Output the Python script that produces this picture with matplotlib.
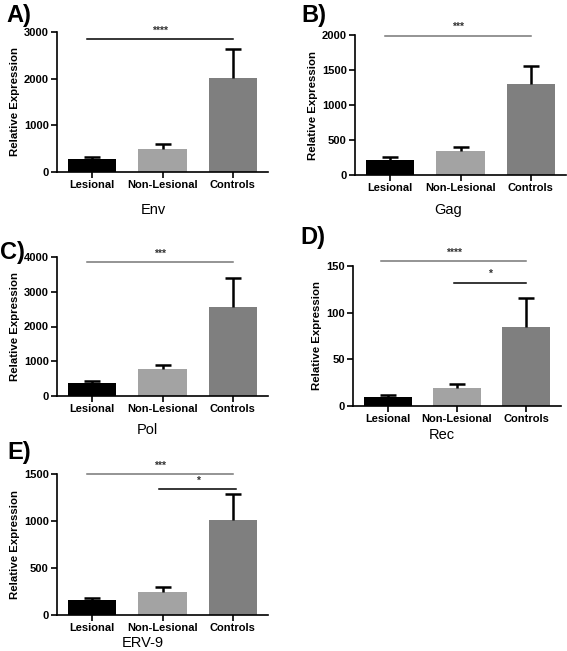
import matplotlib
matplotlib.use("Agg")
import matplotlib.pyplot as plt

plt.rcParams['font.family'] = ['Liberation Sans', 'DejaVu Sans']

groups = ["Lesional", "Non-Lesional", "Controls"]
colors = ["#000000", "#a3a3a3", "#7f7f7f"]

genes = ["Env", "Gag", "Pol", "Rec", "ERV-9"]
panel_tags = ["A)", "B)", "C)", "D)", "E)"]

means = {
    "Env":   [270, 500, 2020],
    "Gag":   [220, 350, 1300],
    "Pol":   [380, 775, 2550],
    "Rec":   [9.5, 19, 85],
    "ERV-9": [160, 242, 1010],
}
sems = {
    "Env":   [45, 110, 620],
    "Gag":   [40, 55, 260],
    "Pol":   [50, 125, 860],
    "Rec":   [2, 5, 31],
    "ERV-9": [25, 60, 275],
}
ymax = {"Env": 3000, "Gag": 2000, "Pol": 4000, "Rec": 150, "ERV-9": 1500}
ystep = {"Env": 1000, "Gag": 500, "Pol": 1000, "Rec": 50, "ERV-9": 500}

# significance brackets: (from, to, y, stars, colour)
sig = {
    "Env":   [(-0.08, 2.0, 2850, "****", "black")],
    "Gag":   [(-0.08, 2.0, 1990, "***", "#777777")],
    "Pol":   [(-0.08, 2.0, 3850, "***", "#777777")],
    "Rec":   [(-0.1, 2.0, 155, "****", "#777777"), (0.95, 2.0, 132, "*", "black")],
    "ERV-9": [(-0.08, 2.0, 1500, "***", "#777777"), (0.95, 2.05, 1340, "*", "black")],
}

W, H = 567, 651
fig = plt.figure(figsize=(W / 100, H / 100), dpi=100)

# pixel boxes: left, top, right, bottom
boxes = {
    "Env":   (57, 32, 268, 172),
    "Gag":   (355, 35, 566, 175),
    "Pol":   (57, 257, 268, 396),
    "Rec":   (353, 266, 561, 406),
    "ERV-9": (57, 474, 268, 615),
}
title_pos = {"Env": (153, 210), "Gag": (448, 210), "Pol": (147, 430), "Rec": (442, 435), "ERV-9": (143, 643)}
tag_pos = {"Env": (6, 4), "Gag": (301, 4), "Pol": (0, 241), "Rec": (300, 226), "ERV-9": (7, 441)}

for gene, tag in zip(genes, panel_tags):
    l, t, r, b = boxes[gene]
    ax = fig.add_axes([l / W, 1 - b / H, (r - l) / W, (b - t) / H])
    x = range(len(groups))
    ax.bar(x, means[gene], width=0.69, color=colors, edgecolor="none", zorder=2)
    _, caps, _ = ax.errorbar(x, means[gene], yerr=[[0, 0, 0], sems[gene]], fmt="none",
                             ecolor="black", elinewidth=1.8, capsize=5.5, capthick=1.8, zorder=3)
    caps[0].remove()  # only the upper cap, as in the original
    ax.set_xlim(-0.5, 2.5)
    ax.set_ylim(0, ymax[gene])
    ax.set_yticks([v * ystep[gene] for v in range(int(ymax[gene] / ystep[gene]) + 1)])
    ax.set_xticks(list(x))
    ax.set_xticklabels(groups, fontsize=8, fontweight="bold")
    for lab in ax.get_yticklabels():
        lab.set_fontsize(8)
        lab.set_fontweight("bold")
    ax.set_ylabel("Relative Expression", fontsize=8.2, fontweight="bold", labelpad=3)
    for s in ["top", "right"]:
        ax.spines[s].set_visible(False)
    for s in ["left", "bottom"]:
        ax.spines[s].set_linewidth(1.2)
    ax.tick_params(direction="out", length=4, width=1.2, pad=2)

    for x0, x1, yv, stars, col in sig[gene]:
        ax.plot([x0, x1], [yv, yv], color=col, lw=1.1, clip_on=False)
        ax.text((x0 + x1) / 2, yv + ymax[gene] * 0.025, stars, ha="center", va="bottom",
                fontsize=7.5, fontweight="bold", color="#333333")

    tx, ty = title_pos[gene]
    fig.text(tx / W, 1 - ty / H, gene, ha="center", va="center", fontsize=10.5)
    px, py = tag_pos[gene]
    fig.text(px / W, 1 - py / H, tag, ha="left", va="top", fontsize=17, fontweight="bold")

fig.savefig("out.png", dpi=100)
